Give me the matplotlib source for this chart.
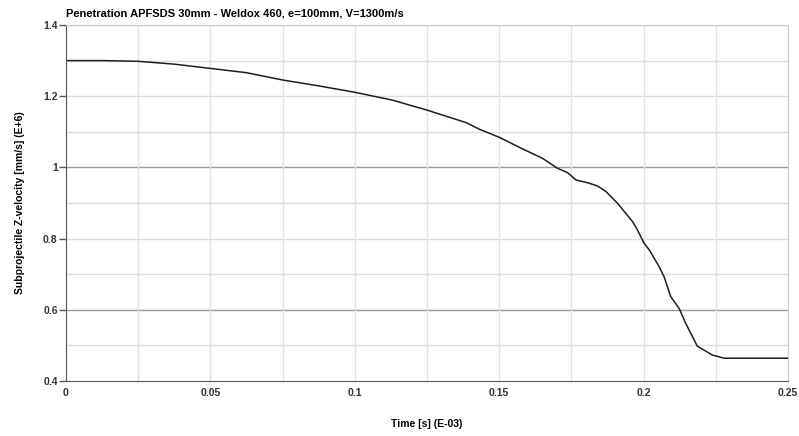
import numpy as np
import matplotlib
matplotlib.use("Agg")
import matplotlib.pyplot as plt

# time in E-03 s, velocity in E+6 mm/s
time_ms = [0.0, 0.0125, 0.025, 0.0375, 0.05, 0.0625, 0.075, 0.0875, 0.1, 0.113,
           0.125, 0.1386, 0.1432, 0.15, 0.1581, 0.165, 0.1702, 0.1737,
           0.1766, 0.1806, 0.184, 0.187, 0.191, 0.1962, 0.1979, 0.2002, 0.202,
           0.2054, 0.2071, 0.2094, 0.2123, 0.2146, 0.2186, 0.2238, 0.2279, 0.25]
velocity = [1.300, 1.300, 1.298, 1.290, 1.278, 1.266, 1.2455, 1.229, 1.211, 1.189,
            1.161, 1.1256, 1.107, 1.0846, 1.052, 1.0255, 0.9975, 0.9851,
            0.9646, 0.957, 0.948, 0.932, 0.899, 0.8475, 0.824, 0.7868, 0.768,
            0.721, 0.693, 0.637, 0.604, 0.562, 0.498, 0.473, 0.464, 0.464]

plt.rcParams['font.family'] = ['Liberation Sans', 'DejaVu Sans']
plt.rcParams['font.weight'] = 'bold'

fig = plt.figure(figsize=(7.99, 4.36), dpi=100)
ax = fig.add_axes([0.0826, 0.1261, 0.9036, 0.8166])

# grid: light every 0.1 / 0.025, a few darker lines like the original
for yv in np.arange(0.5, 1.41, 0.1):
    c = '#9a9a9a' if round(yv, 1) in (0.6, 1.0) else '#dcdcdc'
    ax.axhline(yv, color=c, lw=1.0, zorder=0)
for xv in np.arange(0.025, 0.251, 0.025):
    ax.axvline(xv, color='#e2e2e2', lw=1.0, zorder=0)

ax.plot(time_ms, velocity, color='#1e1e1e', lw=1.1)

ax.set_xlim(0, 0.25)
ax.set_ylim(0.4, 1.4)
ax.set_xticks([0, 0.05, 0.1, 0.15, 0.2, 0.25])
ax.set_xticklabels(['0', '0.05', '0.1', '0.15', '0.2', '0.25'])
ax.set_yticks([0.4, 0.6, 0.8, 1.0, 1.2, 1.4])
ax.set_yticklabels(['0.4', '0.6', '0.8', '1', '1.2', '1.4'])
ax.tick_params(axis='both', labelsize=7.5, colors='#333333', length=0, pad=5)
ax.tick_params(axis='y', length=5, width=1, color='#555555', pad=1)

for side in ('left', 'bottom'):
    ax.spines[side].set_color('#555555')
for side in ('top', 'right'):
    ax.spines[side].set_color('#cccccc')

ax.set_xlabel('Time [s] (E-03)', fontsize=7.5, fontweight='bold', labelpad=15)
ax.set_ylabel('Subprojectile Z-velocity [mm/s] (E+6)', fontsize=7.5,
              fontweight='bold', labelpad=13)
ax.set_title('Penetration APFSDS 30mm - Weldox 460, e=100mm, V=1300m/s',
             fontsize=8, fontweight='bold', loc='left', pad=6)

fig.savefig('out.png', dpi=100)
